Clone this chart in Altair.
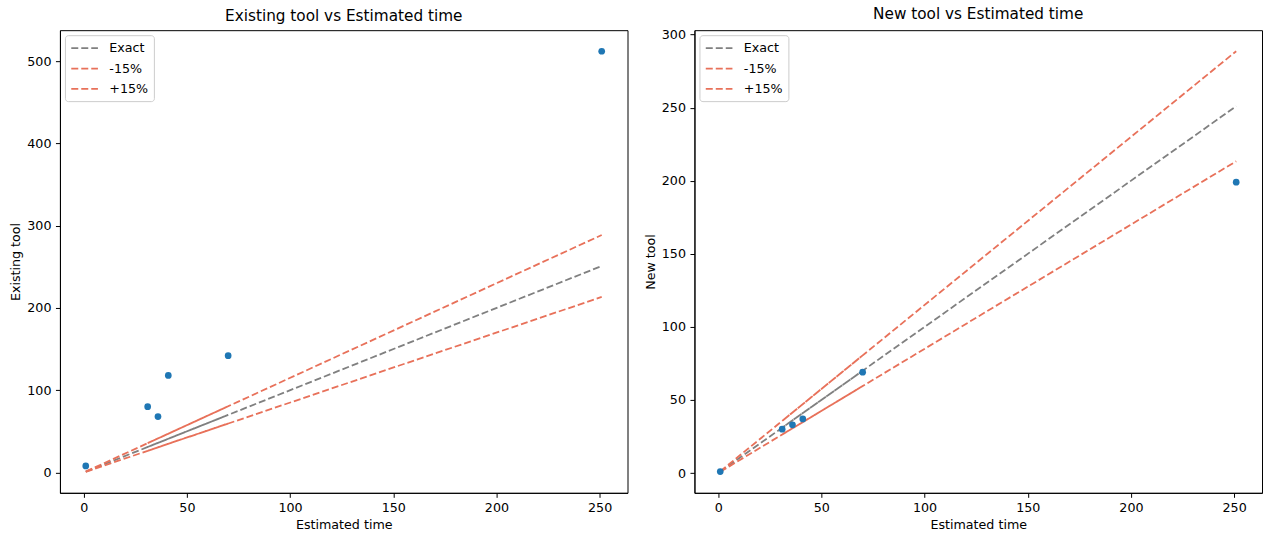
import altair as alt
import pandas as pd

# ---- data ----
estimated = [1, 31, 36, 41, 70, 251]
existing_tool = [8, 80, 68, 118, 142, 512]
new_tool = [1, 30, 33, 37, 69, 199]

# order in which the reference lines were drawn (unsorted -> overlapping dashes)
line_x_order = [1, 70, 31, 36, 41, 251]
series_names = ["Exact", "-15%", "+15%"]
series_factor = [1.0, 0.85, 1.15]
series_colors = ["#808080", "#e8715a", "#e8715a"]

x_ticks = [0, 50, 100, 150, 200, 250]
left_y_ticks = [0, 100, 200, 300, 400, 500]
right_y_ticks = [0, 50, 100, 150, 200, 250, 300]

points_df = pd.DataFrame({"est": estimated, "existing": existing_tool, "new": new_tool})

rows = []
for name, f in zip(series_names, series_factor):
    for i, xv in enumerate(line_x_order):
        rows.append({"series": name, "i": i, "est": xv, "val": xv * f})
lines_df = pd.DataFrame(rows)

FONT = "DejaVu Sans"
x_domain = [-11.5, 263.5]


def panel(ycol, title, ytitle, ydomain, yticks):
    xenc = alt.X(
        "est:Q",
        title="Estimated time",
        scale=alt.Scale(domain=x_domain, nice=False, zero=False),
        axis=alt.Axis(values=x_ticks, format="d"),
    )
    lines = alt.Chart(lines_df).mark_line(strokeWidth=1.8).encode(
        x=xenc,
        y=alt.Y("val:Q", title=ytitle,
                scale=alt.Scale(domain=ydomain, nice=False, zero=False),
                axis=alt.Axis(values=yticks, format="d")),
        color=alt.Color(
            "series:N", title=None,
            scale=alt.Scale(domain=series_names, range=series_colors),
            legend=alt.Legend(
                orient="top-left", offset=5, symbolType="M-1,0H3", symbolSize=178,
                symbolStrokeWidth=1.8, labelFont=FONT, labelFontSize=12.7,
                labelColor="black", labelOffset=23.4, rowPadding=5.4, padding=5,
                fillColor="white", strokeColor="#cccccc", cornerRadius=3,
            ),
        ),
        strokeDash=alt.StrokeDash(
            "series:N", title=None,
            scale=alt.Scale(domain=series_names, range=[[7, 3], [7, 3], [7, 3]]),
        ),
        order=alt.Order("i:Q"),
    )
    pts = alt.Chart(points_df).mark_circle(size=45, color="#1f77b4", opacity=1).encode(
        x=xenc,
        y=alt.Y(f"{ycol}:Q", title=ytitle,
                scale=alt.Scale(domain=ydomain, nice=False, zero=False),
                axis=alt.Axis(values=yticks, format="d")),
    )
    return alt.layer(lines, pts).properties(width=568, height=463, title=title)


left = panel("existing", "Existing tool vs Estimated time", "Existing tool", [-24.7, 537.6], left_y_ticks)
right = panel("new", "New tool vs Estimated time", "New tool", [-13.54, 303.04], right_y_ticks)

chart = (
    alt.hconcat(left, right, spacing=15)
    .resolve_scale(color="independent", strokeDash="independent")
    .resolve_legend(color="independent", strokeDash="independent")
    .properties(padding={"left": 9, "top": 6, "right": 1, "bottom": 0}, background="white")
    .configure_view(stroke="black", strokeWidth=1)
    .configure_axis(
        grid=False, domainColor="black", tickColor="black", labelColor="black",
        titleColor="black", labelFont=FONT, titleFont=FONT, labelFontSize=12.7,
        titleFontSize=12.7, titleFontWeight="normal", tickSize=4.5, labelPadding=4.5,
        titlePadding=4, domainWidth=1, tickWidth=1,
    )
    .configure_title(font=FONT, fontSize=15.3, fontWeight="normal", color="black", offset=6)
)

chart.save("out.html", embed_options={"renderer": "svg", "actions": False})
